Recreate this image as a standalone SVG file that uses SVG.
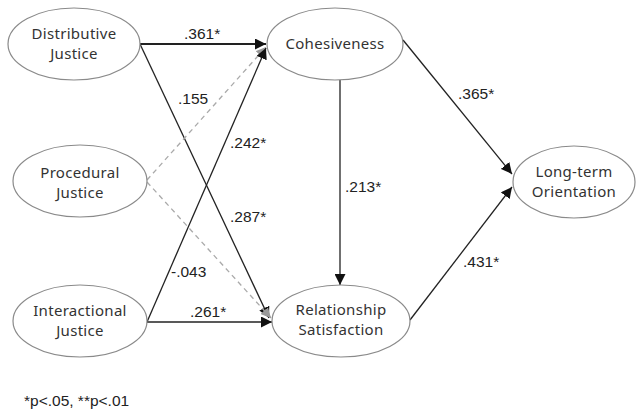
<svg xmlns="http://www.w3.org/2000/svg" width="641" height="414" viewBox="0 0 641 414">
  <style>
    .node ellipse { fill: #ffffff; stroke: #8a8a8a; stroke-width: 1.2; }
    .node text { font-family: "Noto Sans", "DejaVu Sans", sans-serif; font-size: 15px; letter-spacing: 0.3px; fill: #333333; text-anchor: middle; }
    .edge { stroke: #222222; stroke-width: 1.3; fill: none; marker-end: url(#arrow); }
    .edge.thick { stroke-width: 2; }
    .edge.dashed { stroke: #aaaaaa; stroke-dasharray: 5 4; marker-end: url(#arrowGray); }
    .label { font-family: "Liberation Sans", Arial, sans-serif; font-size: 15.5px; fill: #222222; }
  </style>
  <defs>
    <marker id="arrow" viewBox="0 0 10 10" refX="10" refY="5" markerWidth="11" markerHeight="11" markerUnits="userSpaceOnUse" orient="auto">
      <path d="M0,0 L10,5 L0,10 z" fill="#111111"/>
    </marker>
    <marker id="arrowGray" viewBox="0 0 10 10" refX="10" refY="5" markerWidth="10" markerHeight="10" markerUnits="userSpaceOnUse" orient="auto">
      <path d="M0,0 L10,5 L0,10 z" fill="#999999"/>
    </marker>
  </defs>

  <rect width="641" height="414" fill="#ffffff"/>

  <g id="connectors">
    <line class="edge thick" x1="140" y1="44" x2="266" y2="44"/>
    <line class="edge" x1="140" y1="44" x2="269" y2="318"/>
    <line class="edge dashed" x1="147" y1="180" x2="266" y2="47"/>
    <line class="edge dashed" x1="147" y1="182" x2="271" y2="318"/>
    <line class="edge" x1="147" y1="322" x2="266" y2="48"/>
    <line class="edge" x1="147" y1="322" x2="272" y2="322"/>
    <line class="edge" x1="340" y1="80" x2="340" y2="285"/>
    <line class="edge" x1="403" y1="40" x2="512" y2="174"/>
    <line class="edge" x1="410" y1="320" x2="512" y2="187"/>
  </g>

  <g id="edge-labels">
    <text class="label" x="184" y="39">.361*</text>
    <text class="label" x="178" y="104">.155</text>
    <text class="label" x="230" y="148">.242*</text>
    <text class="label" x="230" y="222">.287*</text>
    <text class="label" x="171" y="277">-.043</text>
    <text class="label" x="190" y="317">.261*</text>
    <text class="label" x="345" y="192">.213*</text>
    <text class="label" x="458" y="99">.365*</text>
    <text class="label" x="463" y="267">.431*</text>
  </g>

  <g id="distributive-justice" class="node">
    <ellipse cx="74" cy="44" rx="66" ry="36"/>
    <text x="74" y="39">Distributive</text>
    <text x="74" y="59">Justice</text>
  </g>
  <g id="procedural-justice" class="node">
    <ellipse cx="80" cy="181" rx="67" ry="36"/>
    <text x="80" y="178">Procedural</text>
    <text x="80" y="198">Justice</text>
  </g>
  <g id="interactional-justice" class="node">
    <ellipse cx="80" cy="321" rx="67" ry="36"/>
    <text x="80" y="316">Interactional</text>
    <text x="80" y="336">Justice</text>
  </g>
  <g id="cohesiveness" class="node">
    <ellipse cx="335" cy="44" rx="68" ry="36"/>
    <text x="335" y="49">Cohesiveness</text>
  </g>
  <g id="relationship-satisfaction" class="node">
    <ellipse cx="341" cy="321" rx="69" ry="36"/>
    <text x="341" y="315">Relationship</text>
    <text x="341" y="335">Satisfaction</text>
  </g>
  <g id="long-term-orientation" class="node">
    <ellipse cx="574" cy="182" rx="61" ry="36"/>
    <text x="574" y="177">Long-term</text>
    <text x="574" y="197">Orientation</text>
  </g>

  <text class="label" x="24" y="406" font-size="15">*p&lt;.05, **p&lt;.01</text>
</svg>
